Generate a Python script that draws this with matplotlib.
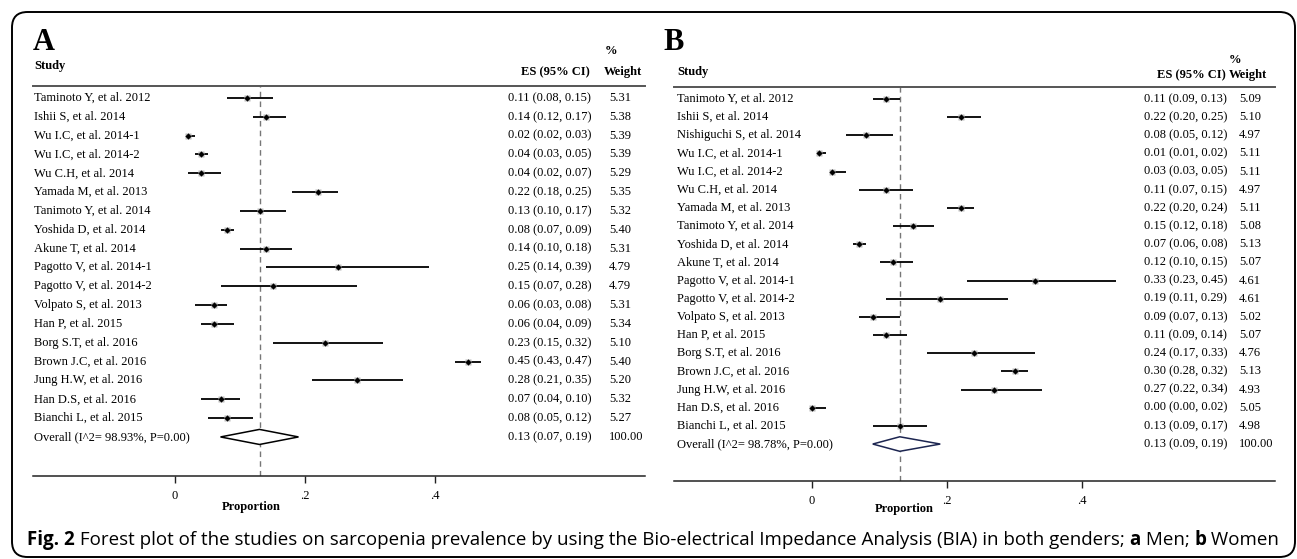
import matplotlib
matplotlib.use("Agg")
import matplotlib.pyplot as plt
from matplotlib import transforms
from matplotlib.patches import FancyBboxPatch

# --- data: panel A (men) ---------------------------------------------
studies_a = ["Taminoto Y, et al. 2012", "Ishii S, et al. 2014",
             "Wu I.C, et al. 2014-1", "Wu I.C, et al. 2014-2",
             "Wu C.H, et al. 2014", "Yamada M, et al. 2013",
             "Tanimoto Y, et al. 2014", "Yoshida D, et al. 2014",
             "Akune T, et al. 2014", "Pagotto V, et al. 2014-1",
             "Pagotto V, et al. 2014-2", "Volpato S, et al. 2013",
             "Han P, et al. 2015", "Borg S.T, et al. 2016",
             "Brown J.C, et al. 2016", "Jung H.W, et al. 2016",
             "Han D.S, et al. 2016", "Bianchi L, et al. 2015"]
es_a = [0.11, 0.14, 0.02, 0.04, 0.04, 0.22, 0.13, 0.08, 0.14,
        0.25, 0.15, 0.06, 0.06, 0.23, 0.45, 0.28, 0.07, 0.08]
lo_a = [0.08, 0.12, 0.02, 0.03, 0.02, 0.18, 0.10, 0.07, 0.10,
        0.14, 0.07, 0.03, 0.04, 0.15, 0.43, 0.21, 0.04, 0.05]
hi_a = [0.15, 0.17, 0.03, 0.05, 0.07, 0.25, 0.17, 0.09, 0.18,
        0.39, 0.28, 0.08, 0.09, 0.32, 0.47, 0.35, 0.10, 0.12]
wt_a = [5.31, 5.38, 5.39, 5.39, 5.29, 5.35, 5.32, 5.40, 5.31,
        4.79, 4.79, 5.31, 5.34, 5.10, 5.40, 5.20, 5.32, 5.27]
overall_a = (0.13, 0.07, 0.19)
i2_a = 98.93

# --- data: panel B (women) -------------------------------------------
studies_b = ["Tanimoto Y, et al. 2012", "Ishii S, et al. 2014",
             "Nishiguchi S, et al. 2014", "Wu I.C, et al. 2014-1",
             "Wu I.C, et al. 2014-2", "Wu C.H, et al. 2014",
             "Yamada M, et al. 2013", "Tanimoto Y, et al. 2014",
             "Yoshida D, et al. 2014", "Akune T, et al. 2014",
             "Pagotto V, et al. 2014-1", "Pagotto V, et al. 2014-2",
             "Volpato S, et al. 2013", "Han P, et al. 2015",
             "Borg S.T, et al. 2016", "Brown J.C, et al. 2016",
             "Jung H.W, et al. 2016", "Han D.S, et al. 2016",
             "Bianchi L, et al. 2015"]
es_b = [0.11, 0.22, 0.08, 0.01, 0.03, 0.11, 0.22, 0.15, 0.07, 0.12,
        0.33, 0.19, 0.09, 0.11, 0.24, 0.30, 0.27, 0.00, 0.13]
lo_b = [0.09, 0.20, 0.05, 0.01, 0.03, 0.07, 0.20, 0.12, 0.06, 0.10,
        0.23, 0.11, 0.07, 0.09, 0.17, 0.28, 0.22, 0.00, 0.09]
hi_b = [0.13, 0.25, 0.12, 0.02, 0.05, 0.15, 0.24, 0.18, 0.08, 0.15,
        0.45, 0.29, 0.13, 0.14, 0.33, 0.32, 0.34, 0.02, 0.17]
wt_b = [5.09, 5.10, 4.97, 5.11, 5.11, 4.97, 5.11, 5.08, 5.13, 5.07,
        4.61, 4.61, 5.02, 5.07, 4.76, 5.13, 4.93, 5.05, 4.98]
overall_b = (0.13, 0.09, 0.19)
i2_b = 98.78

ticks = [0, 0.2, 0.4]
tick_labels = ["0", ".2", ".4"]

W, H = 1297, 559
SERIF = "Liberation Serif"
FS = 9

fig = plt.figure(figsize=(W / 100, H / 100), dpi=100)
fig.patch.set_facecolor("white")


def fx(px):
    return px / W


def fy(py):
    return 1 - py / H


def forest(studies, es, lo, hi, wt, overall, i2, box, cols, prop_pos,
           diamond_ec):
    # box: (left, right, top, bottom, x0_px, px_per_unit, row0_px, row_step)
    left, right, top, bottom, x0, scale, row0, step = box
    ax = fig.add_axes([fx(left), fy(bottom), fx(right) - fx(left),
                       (bottom - top) / H])
    ax.set_xlim((left - x0) / scale, (right - x0) / scale)
    ax.set_ylim((bottom - row0) / step, (top - row0) / step)
    for s in ["left", "right"]:
        ax.spines[s].set_visible(False)
    ax.spines["top"].set_color("#555555")
    ax.spines["top"].set_linewidth(1.4)
    ax.spines["bottom"].set_color("#222222")
    ax.spines["bottom"].set_linewidth(1.1)
    ax.set_yticks([])
    ax.set_xticks(ticks)
    ax.set_xticklabels(tick_labels, fontfamily=SERIF, fontsize=FS)
    ax.tick_params(axis="x", length=5, width=1, pad=5, color="#222222")

    rows = list(range(len(studies)))
    for r, e, l, h in zip(rows, es, lo, hi):
        ax.plot([l, h], [r, r], color="black", lw=1.3, solid_capstyle="butt")
        ax.plot([e], [r], marker="s", ms=4.5, color="#bbbbbb", mec="none")
        ax.plot([e], [r], marker="D", ms=3.2, color="black", mec="none")

    ro = len(studies)
    oe, ol, oh = overall
    dh = 0.4
    ax.fill([ol, oe, oh, oe, ol], [ro, ro - dh, ro, ro + dh, ro],
            facecolor="white", edgecolor=diamond_ec, lw=1.1, zorder=3)
    ax.axvline(oe, color="#777777", lw=1, ls=(0, (4, 3)), zorder=1)

    tr = transforms.blended_transform_factory(fig.transFigure, ax.transData)
    name_x, es_x, wt_x = cols
    txt = dict(transform=tr, fontfamily=SERIF, fontsize=FS, va="center",
               ha="left")
    for r, s, e, l, h, w in zip(rows, studies, es, lo, hi, wt):
        ax.text(fx(name_x), r, s, **txt)
        ax.text(fx(es_x), r, f"{e:.2f} ({l:.2f}, {h:.2f})", **txt)
        ax.text(fx(wt_x), r, f"{w:.2f}", **txt)
    ax.text(fx(name_x), ro, f"Overall (I^2= {i2:.2f}%, P=0.00)", **txt)
    ax.text(fx(es_x), ro, f"{oe:.2f} ({ol:.2f}, {oh:.2f})", **txt)
    ax.text(fx(wt_x), ro, "100.00", **txt)

    # x title
    trx = transforms.blended_transform_factory(ax.transData, fig.transFigure)
    ax.text(prop_pos[0], fy(prop_pos[1]), "Proportion", transform=trx,
            fontfamily=SERIF, fontsize=FS, fontweight="bold",
            ha="center", va="center")
    return ax


ax_a = forest(studies_a, es_a, lo_a, hi_a, wt_a, overall_a, i2_a,
              (33, 645, 86, 476, 175, 650, 98, 18.83),
              (34, 508, 609), (0.118, 507), "black")
ax_b = forest(studies_b, es_b, lo_b, hi_b, wt_b, overall_b, i2_b,
              (674, 1275, 87, 481, 812, 675, 99, 18.16),
              (677, 1144, 1239), (0.136, 509), "#1c2550")

# headers
hdr = dict(fontfamily=SERIF, fontsize=FS, fontweight="bold", va="center")
fig.text(fx(33), fy(43), "A", fontfamily=SERIF, fontsize=22,
         fontweight="bold", va="center")
fig.text(fx(34), fy(66), "Study", **hdr)
fig.text(fx(590), fy(72), "ES (95% CI)", ha="right", **hdr)
fig.text(fx(605), fy(51), "%", ha="left", **hdr)
fig.text(fx(604), fy(72), "Weight", ha="left", **hdr)

fig.text(fx(663), fy(43), "B", fontfamily=SERIF, fontsize=22,
         fontweight="bold", va="center")
fig.text(fx(677), fy(72), "Study", **hdr)
fig.text(fx(1226), fy(75), "ES (95% CI)", ha="right", **hdr)
fig.text(fx(1229), fy(60), "%", ha="left", **hdr)
fig.text(fx(1229), fy(75), "Weight", ha="left", **hdr)

# rounded frame
frame = FancyBboxPatch((fx(12), fy(557)), fx(1295) - fx(12),
                       fy(12) - fy(557),
                       boxstyle="round,pad=0,rounding_size=0.012",
                       transform=fig.transFigure, facecolor="none",
                       edgecolor="black", lw=1.4, mutation_aspect=W / H)
fig.add_artist(frame)

# caption with mixed bold segments
caption = [("Fig. 2", True),
           (" Forest plot of the studies on sarcopenia prevalence by using the "
            "Bio-electrical Impedance Analysis (BIA) in both genders; ", False),
           ("a", True), (" Men; ", False), ("b", True), (" Women", False)]
renderer = fig.canvas.get_renderer()
x = fx(27)
for seg, bold in caption:
    t = fig.text(x, fy(540), seg, fontfamily="Open Sans", fontsize=13.5,
                 fontweight="bold" if bold else "normal", va="center",
                 ha="left")
    bb = t.get_window_extent(renderer=renderer)
    x += bb.width / W

fig.savefig("out.png", dpi=100, facecolor="white")
